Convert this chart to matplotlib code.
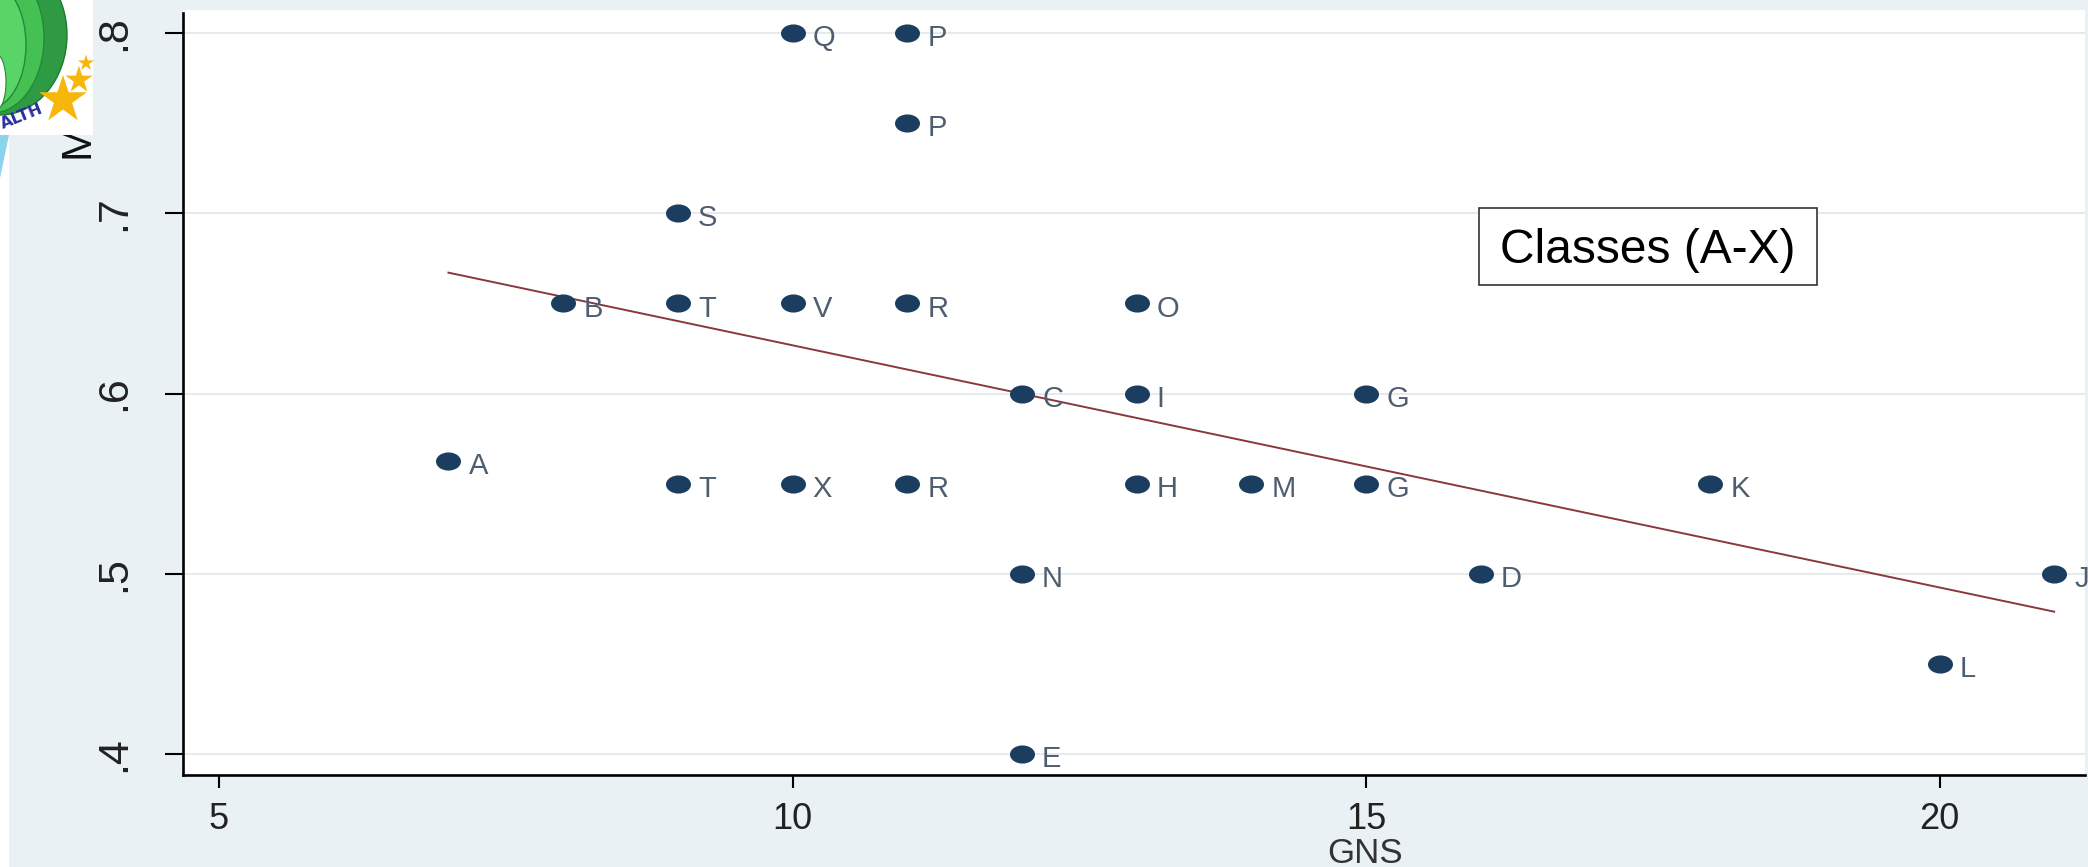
import numpy as np
import matplotlib
matplotlib.use("Agg")
import matplotlib.pyplot as plt
from matplotlib.path import Path
from matplotlib.transforms import Affine2D
from matplotlib.patches import Rectangle, Ellipse, Polygon

# ---------------- data ----------------
labels = ["Q", "P", "P", "S", "B", "T", "V", "R", "O", "C", "I", "G",
          "A", "T", "X", "R", "H", "M", "G", "K", "N", "D", "J", "L", "E"]
gns = [10, 11, 11, 9, 8, 9, 10, 11, 13, 12, 13, 15,
       7, 9, 10, 11, 13, 14, 15, 18, 12, 16, 21, 20, 12]
mval = [0.80, 0.80, 0.75, 0.70, 0.65, 0.65, 0.65, 0.65, 0.65, 0.60, 0.60, 0.60,
        0.5625, 0.55, 0.55, 0.55, 0.55, 0.55, 0.55, 0.55, 0.50, 0.50, 0.50, 0.45, 0.40]
xticks = [5, 10, 15, 20]
yticks = [0.4, 0.5, 0.6, 0.7, 0.8]
ytick_labels = [".4", ".5", ".6", ".7", ".8"]
x_title = "GNS"
y_title = "M"
box_text = "Classes (A-X)"

# ---------------- figure ----------------
W, H = 2088, 867
BG = "#e9f1f4"
fig = plt.figure(figsize=(W / 100, H / 100), dpi=100, facecolor=BG)

ax_l, ax_r, ax_t, ax_b = 183, 2085, 10, 775
ax = fig.add_axes([ax_l / W, 1 - ax_b / H, (ax_r - ax_l) / W, (ax_b - ax_t) / H])
ax.set_facecolor("white")

px_per_x = 114.7
px_per_y = 1802.5
ax.set_xlim(5 - (219 - ax_l) / px_per_x, 5 + (ax_r - 219) / px_per_x)
ax.set_ylim(0.4 - (ax_b - 754) / px_per_y, 0.8 + (33 - ax_t) / px_per_y)

# grid
for yv in yticks:
    ax.axhline(yv, color="#e6eaec", lw=1.4, zorder=0)

# fitted line (OLS over the data)
xa = np.array(gns, dtype=float)
ya = np.array(mval, dtype=float)
slope, icpt = np.polyfit(xa, ya, 1)
xf = np.array([xa.min(), xa.max()])
ax.plot(xf, icpt + slope * xf, color="#8a383c", lw=1.4, zorder=2)

# ellipse (horizontally stretched) marker
ell = Path.unit_circle().transformed(Affine2D().scale(1.38, 1.0))
ax.plot(gns, mval, linestyle="none", marker=ell, markersize=18,
        color="#1b3d5f", markeredgewidth=0, zorder=3)

for lab, xv, yv in zip(labels, gns, mval):
    ax.annotate(lab, (xv, yv), xytext=(14.5, -9.5), textcoords="offset points",
                ha="left", va="baseline", fontsize=21, color="#4f5e6e",
                family=["Liberation Sans", "DejaVu Sans"], zorder=4,
                annotation_clip=False)

# spines / ticks
for s in ["top", "right"]:
    ax.spines[s].set_visible(False)
for s in ["left", "bottom"]:
    ax.spines[s].set_linewidth(1.9)
    ax.spines[s].set_color("black")
ax.spines["left"].set_bounds(ax.get_ylim()[0], 0.8 + 20 / px_per_y)

ax.set_xticks(xticks)
ax.set_xticklabels([str(v) for v in xticks], fontsize=26,
                   family=["Liberation Sans", "DejaVu Sans"], color="#222222")
ax.set_yticks(yticks)
ax.set_yticklabels(ytick_labels, fontsize=31, rotation=90, va="center",
                   family=["Liberation Sans Narrow", "Liberation Sans", "DejaVu Sans"],
                   color="#222222")
ax.tick_params(axis="x", length=9.5, width=1.5, pad=10, direction="out")
ax.tick_params(axis="y", length=13, width=1.5, pad=22, direction="out")

ax.set_xlabel(x_title, fontsize=25, family=["Liberation Sans", "DejaVu Sans"],
              color="#333333")
ax.xaxis.set_label_coords((1365 - ax_l) / (ax_r - ax_l), -(837 - ax_b) / (ax_b - ax_t))
ax.set_ylabel(y_title, fontsize=31,
              family=["Liberation Sans Narrow", "Liberation Sans", "DejaVu Sans"],
              color="#111111")
ax.yaxis.set_label_coords((98 - ax_l) / (ax_r - ax_l), (ax_b - 140) / (ax_b - ax_t))

# ---------------- overlay (pixel coords) ----------------
ov = fig.add_axes([0, 0, 1, 1], zorder=10)
ov.set_xlim(0, W)
ov.set_ylim(H, 0)
ov.axis("off")
ov.patch.set_alpha(0)

# left white strip and logo
ov.add_patch(Rectangle((0, 0), 9, H, color="white", lw=0))
ov.add_patch(Polygon([(0, 135), (9, 135), (0, 178)], closed=True,
                     color="#8ad3ec", lw=0))
ov.add_patch(Rectangle((0, 0), 93, 135, color="white", lw=0))
ov.add_patch(Ellipse((0, 35), 134, 160, facecolor="#2f9a44", edgecolor="#1d7a30", lw=1))
ov.add_patch(Ellipse((-8, 38), 104, 150, facecolor="#45c052", edgecolor="#238a36", lw=1))
ov.add_patch(Ellipse((-12, 45), 76, 128, facecolor="#58d566", edgecolor="#238a36", lw=1))
ov.add_patch(Ellipse((-4, 82), 20, 56, facecolor="white", edgecolor="#238a36", lw=0.8))
ov.scatter([63, 79, 86], [100, 80, 63], marker="*", s=[1300, 420, 150],
           color="#f6b70a", linewidths=0)
ov.text(22, 116, "ALTH", rotation=22, ha="center", va="center", fontsize=11.5,
        fontweight="bold", color="#2b2f9e", family=["DejaVu Sans"])

# annotation box
ov.add_patch(Rectangle((1479, 208), 338, 77, facecolor="white",
                       edgecolor="#333333", lw=1.2))
ov.text(1648, 263, box_text, ha="center", va="baseline", fontsize=34.5,
        color="black", family=["Liberation Sans", "DejaVu Sans"])

fig.savefig("out.png", dpi=100, facecolor=BG)
